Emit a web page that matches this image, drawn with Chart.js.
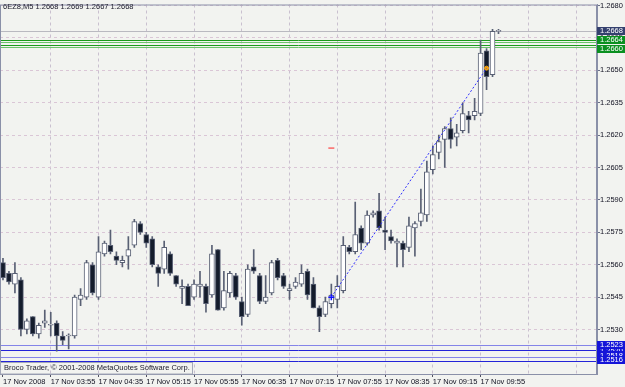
<!DOCTYPE html>
<html>
<head>
<meta charset="utf-8">
<script src="https://cdn.jsdelivr.net/npm/chart.js@4.4.0/dist/chart.umd.min.js"></script>
<style>
  html, body { margin: 0; padding: 0; background: #f2f3f0; }
  canvas { display: block; }
</style>
</head>
<body>
<canvas id="chart" width="625" height="387"></canvas>
<script>
// 6EZ8 M5 bars, 17 Nov 2008
const times = [
  "03:15","03:20","03:25","03:30","03:35","03:40","03:45","03:50",
  "03:55","04:00","04:05","04:10","04:15","04:20","04:25","04:30",
  "04:35","04:40","04:45","04:50","04:55","05:00","05:05","05:10",
  "05:15","05:20","05:25","05:30","05:35","05:40","05:45","05:50",
  "05:55","06:00","06:05","06:10","06:15","06:20","06:25","06:30",
  "06:35","06:40","06:45","06:50","06:55","07:00","07:05","07:10",
  "07:15","07:20","07:25","07:30","07:35","07:40","07:45","07:50",
  "07:55","08:00","08:05","08:10","08:15","08:20","08:25","08:30",
  "08:35","08:40","08:45","08:50","08:55","09:00","09:05","09:10",
  "09:15","09:20","09:25","09:30","09:35","09:40","09:45","09:50",
  "09:55","10:00","10:05","10:10"
];
const opens = [
  1.2561,1.2556,1.2551,1.2553,1.2530,1.2536,1.2528,1.2533,
  1.2532,1.2533,1.2527,1.2527,1.2527,1.2544,1.2545,1.2560,
  1.2545,1.2565,1.2569,1.2564,1.2561,1.2564,1.2569,1.2579,
  1.2574,1.2572,1.2559,1.2558,1.2565,1.2555,1.2549,1.2550,
  1.2545,1.2550,1.2550,1.2546,1.2567,1.2540,1.2547,1.2555,
  1.2543,1.2537,1.2559,1.2555,1.2543,1.2547,1.2562,1.2555,
  1.2548,1.2550,1.2551,1.2557,1.2551,1.2540,1.2537,1.2542,
  1.2544,1.2548,1.2568,1.2566,1.2577,1.2570,1.2583,1.2585,
  1.2576,1.2573,1.2570,1.2570,1.2568,1.2577,1.2580,1.2583,
  1.2604,1.2612,1.2618,1.2623,1.2619,1.2622,1.2629,1.2629,
  1.2630,1.2659,1.2648,1.2668
];
const highs = [
  1.2563,1.2557,1.2561,1.2554,1.2535,1.2536,1.2533,1.2539,
  1.2538,1.2534,1.2529,1.2528,1.2546,1.2549,1.2562,1.2561,
  1.2573,1.2571,1.2576,1.2566,1.2564,1.2573,1.2581,1.2580,
  1.2575,1.2573,1.2560,1.2571,1.2566,1.2555,1.2553,1.2551,
  1.2553,1.2557,1.2551,1.2569,1.2567,1.2557,1.2557,1.2556,
  1.2545,1.2560,1.2567,1.2556,1.2555,1.2562,1.2563,1.2556,
  1.2551,1.2554,1.2560,1.2558,1.2554,1.2541,1.2545,1.2551,
  1.2555,1.2573,1.2569,1.2589,1.2578,1.2585,1.2585,1.2593,
  1.2582,1.2576,1.2572,1.2571,1.2582,1.2580,1.2595,1.2608,
  1.2615,1.2620,1.2624,1.2628,1.2625,1.2635,1.2631,1.2637,
  1.2664,1.2660,1.2669,1.2669
];
const lows = [
  1.2553,1.2551,1.2547,1.2527,1.2528,1.2527,1.2526,1.2531,
  1.2527,1.2520,1.2523,1.2521,1.2526,1.2541,1.2544,1.2546,
  1.2544,1.2564,1.2565,1.2560,1.2559,1.2558,1.2568,1.2574,
  1.2568,1.2559,1.2550,1.2556,1.2555,1.2550,1.2542,1.2541,
  1.2544,1.2545,1.2538,1.2545,1.2539,1.2539,1.2545,1.2544,
  1.2532,1.2536,1.2556,1.2542,1.2542,1.2546,1.2553,1.2549,
  1.2544,1.2549,1.2550,1.2544,1.2540,1.2529,1.2536,1.2540,
  1.2540,1.2547,1.2565,1.2565,1.2567,1.2569,1.2582,1.2576,
  1.2567,1.2570,1.2559,1.2559,1.2566,1.2564,1.2578,1.2580,
  1.2602,1.2609,1.2605,1.2614,1.2615,1.2621,1.2621,1.2627,
  1.2629,1.2641,1.2647,1.2667
];
const closes = [
  1.2554,1.2552,1.2556,1.2530,1.2534,1.2528,1.2532,1.2534,
  1.2532,1.2527,1.2525,1.2527,1.2545,1.2546,1.2561,1.2547,
  1.2566,1.2570,1.2566,1.2562,1.2562,1.2567,1.2580,1.2575,
  1.2570,1.2560,1.2556,1.2568,1.2556,1.2551,1.2550,1.2541,
  1.2551,1.2551,1.2542,1.2565,1.2539,1.2548,1.2556,1.2545,
  1.2536,1.2558,1.2557,1.2543,1.2545,1.2561,1.2554,1.2550,
  1.2549,1.2552,1.2556,1.2546,1.2540,1.2536,1.2543,1.2546,
  1.2550,1.2569,1.2566,1.2574,1.2570,1.2583,1.2584,1.2577,
  1.2575,1.2571,1.2571,1.2567,1.2578,1.2579,1.2584,1.2603,
  1.2611,1.2617,1.2623,1.2618,1.2621,1.2630,1.2627,1.2631,
  1.2658,1.2647,1.2668,1.2668
];

// axis labels
const tickLabels = ["17 Nov 2008","17 Nov 03:55","17 Nov 04:35","17 Nov 05:15","17 Nov 05:55",
  "17 Nov 06:35","17 Nov 07:15","17 Nov 07:55","17 Nov 08:35","17 Nov 09:15","17 Nov 09:55"];
const tickEvery = 8;
const slots = 100; // bars + empty shift area on the right
const priceTicks = [1.2530,1.2545,1.2560,1.2575,1.2590,1.2605,1.2620,1.2635,1.2650,1.2665,1.2680];

// objects on the chart
const bidLevel = 1.2668;
const greenLines = [1.26641,1.26629,1.26617,1.26606];
const greenTags = [1.2664,1.2660];
const blueLines = [1.25227,1.25205,1.25172,1.25156];
const blueTags = [1.2520,1.2518,1.2523,1.2516];
const trendTimes = ["07:50","10:00"];
const trendPrices = [1.2545,1.2651];

const font = "Liberation Sans, Arial, sans-serif";
const labels = times.concat(Array(slots - times.length).fill(""));

const drawBits = {
  id: "drawBits",
  beforeDraw(chart) {
    const { ctx, width, height } = chart;
    ctx.save();
    ctx.fillStyle = "#f2f3f0";
    ctx.fillRect(0, 0, width, height);
    ctx.restore();
  },
  beforeDatasetsDraw(chart) {
    const { ctx, chartArea: a, scales: { y } } = chart;
    ctx.save();
    const hline = (v, color) => {
      const py = Math.round(y.getPixelForValue(v)) + 0.5;
      ctx.strokeStyle = color;
      ctx.lineWidth = 1;
      ctx.beginPath();
      ctx.moveTo(a.left, py);
      ctx.lineTo(a.right, py);
      ctx.stroke();
    };
    hline(bidLevel, "#b9b9c0");
    greenLines.forEach((v, i) => hline(v, i % 2 ? "#6cc46c" : "#1c9a1c"));
    blueLines.forEach((v, i) => hline(v, i % 2 ? "#2323d8" : "#8484e8"));
    ctx.restore();
  },
  afterDraw(chart) {
    const { ctx, chartArea: a, scales: { y } } = chart;
    ctx.save();
    // frame
    ctx.strokeStyle = "#8a90a8";
    ctx.lineWidth = 1;
    ctx.strokeRect(a.left + 0.5, a.top + 0.5, a.right - a.left - 1, a.bottom - a.top);

    // symbol line
    ctx.font = "7.5px " + font;
    ctx.fillStyle = "#202030";
    ctx.textBaseline = "middle";
    ctx.textAlign = "left";
    ctx.fillText("6EZ8,M5 1.2668 1.2669 1.2667 1.2668", 3, 7);

    // copyright box
    ctx.strokeStyle = "#a4a8b8";
    ctx.strokeRect(a.left + 0.5, 362.5, 192, a.bottom - 362.5);
    ctx.fillStyle = "#202030";
    ctx.fillText("Broco Trader, \u00a9 2001-2008 MetaQuotes Software Corp.", 4, 368);

    // price tags on the axis
    const tag = (v, bg) => {
      const py = y.getPixelForValue(v);
      ctx.fillStyle = bg;
      ctx.fillRect(a.right, Math.round(py) - 4, 28, 8);
      ctx.fillStyle = "#ffffff";
      ctx.fillText(v.toFixed(4), a.right + 3, py);
    };
    tag(bidLevel, "#34406e");
    greenTags.forEach(v => tag(v, "#0a9020"));
    blueTags.forEach(v => tag(v, "#1414d8"));
    ctx.restore();
  }
};

new Chart(document.getElementById("chart"), {
  type: "bar",
  data: {
    labels: labels,
    datasets: [
      {
        type: "line",
        data: trendTimes.map((t, i) => ({ x: t, y: trendPrices[i] })),
        borderColor: "#3030ff",
        borderWidth: 1,
        borderDash: [2, 2],
        pointRadius: 0,
        order: 0,
      },
      {
        type: "line",
        data: [{ x: trendTimes[0], y: trendPrices[0] }],
        showLine: false,
        pointStyle: "cross",
        pointRadius: 3,
        borderColor: "#1010ff",
        borderWidth: 1.5,
        order: 0,
      },
      {
        type: "line",
        data: [{ x: trendTimes[1], y: trendPrices[1] }],
        showLine: false,
        pointStyle: "circle",
        pointRadius: 2,
        backgroundColor: "#f0a010",
        borderColor: "#f0a010",
        order: 0,
      },
      {
        type: "line",
        data: [{ x: "07:50", y: 1.2614 }],
        showLine: false,
        pointStyle: "line",
        pointRadius: 3,
        borderColor: "#ff2020",
        borderWidth: 1,
        order: 0,
      },
      {
        // bodies
        data: opens.map((o, i) => [o, closes[i]]),
        backgroundColor: opens.map((o, i) => (closes[i] >= o ? "#ffffff" : "#141c2c")),
        borderColor: "#596074",
        borderWidth: 1,
        borderSkipped: false,
        barThickness: 5,
        minBarLength: 1,
        grouped: false,
        order: 1,
      },
      {
        // wicks
        data: lows.map((l, i) => [l, highs[i]]),
        backgroundColor: "#596074",
        borderWidth: 0,
        barThickness: 1,
        grouped: false,
        order: 2,
      },
    ],
  },
  options: {
    responsive: false,
    devicePixelRatio: 1,
    animation: false,
    events: [],
    layout: { autoPadding: false, padding: { left: 0, top: 1, right: 0, bottom: 0 } },
    plugins: { legend: { display: false }, tooltip: { enabled: false } },
    scales: {
      x: {
        type: "category",
        offset: true,
        grid: {
          offset: false,
          color: (c) => (c.index % tickEvery === 0 && c.index > 0 ? "#c9c0cf" : "transparent"),
          tickLength: 3,
          tickColor: (c) => (c.index % tickEvery === 0 && c.index / tickEvery < tickLabels.length ? "#505060" : "transparent"),
        },
        border: { color: "#8a90a8", dash: [3, 3] },
        ticks: {
          autoSkip: false,
          maxRotation: 0,
          minRotation: 0,
          align: "start",
          padding: 0,
          color: "#101020",
          font: { family: font, size: 7.5 },
          callback: (v, i) => (i % tickEvery === 0 && i / tickEvery < tickLabels.length ? tickLabels[i / tickEvery] : ""),
        },
        afterFit: (s) => {
          s.height = 13;
        },
      },
      y: {
        position: "right",
        min: 1.250942,
        max: 1.268046,
        afterBuildTicks: (s) => {
          s.ticks = priceTicks.map((v) => ({ value: v }));
        },
        grid: { color: "#dac6d6", tickLength: 3, tickColor: "#6a7088" },
        border: { color: "#8a90a8", dash: [3, 3] },
        ticks: {
          padding: 0,
          color: "#101020",
          font: { family: font, size: 7.5 },
          callback: (v) => v.toFixed(4),
        },
        afterFit: (s) => {
          s.width = 28;
        },
      },
    },
  },
  plugins: [drawBits],
});
</script>
</body>
</html>
